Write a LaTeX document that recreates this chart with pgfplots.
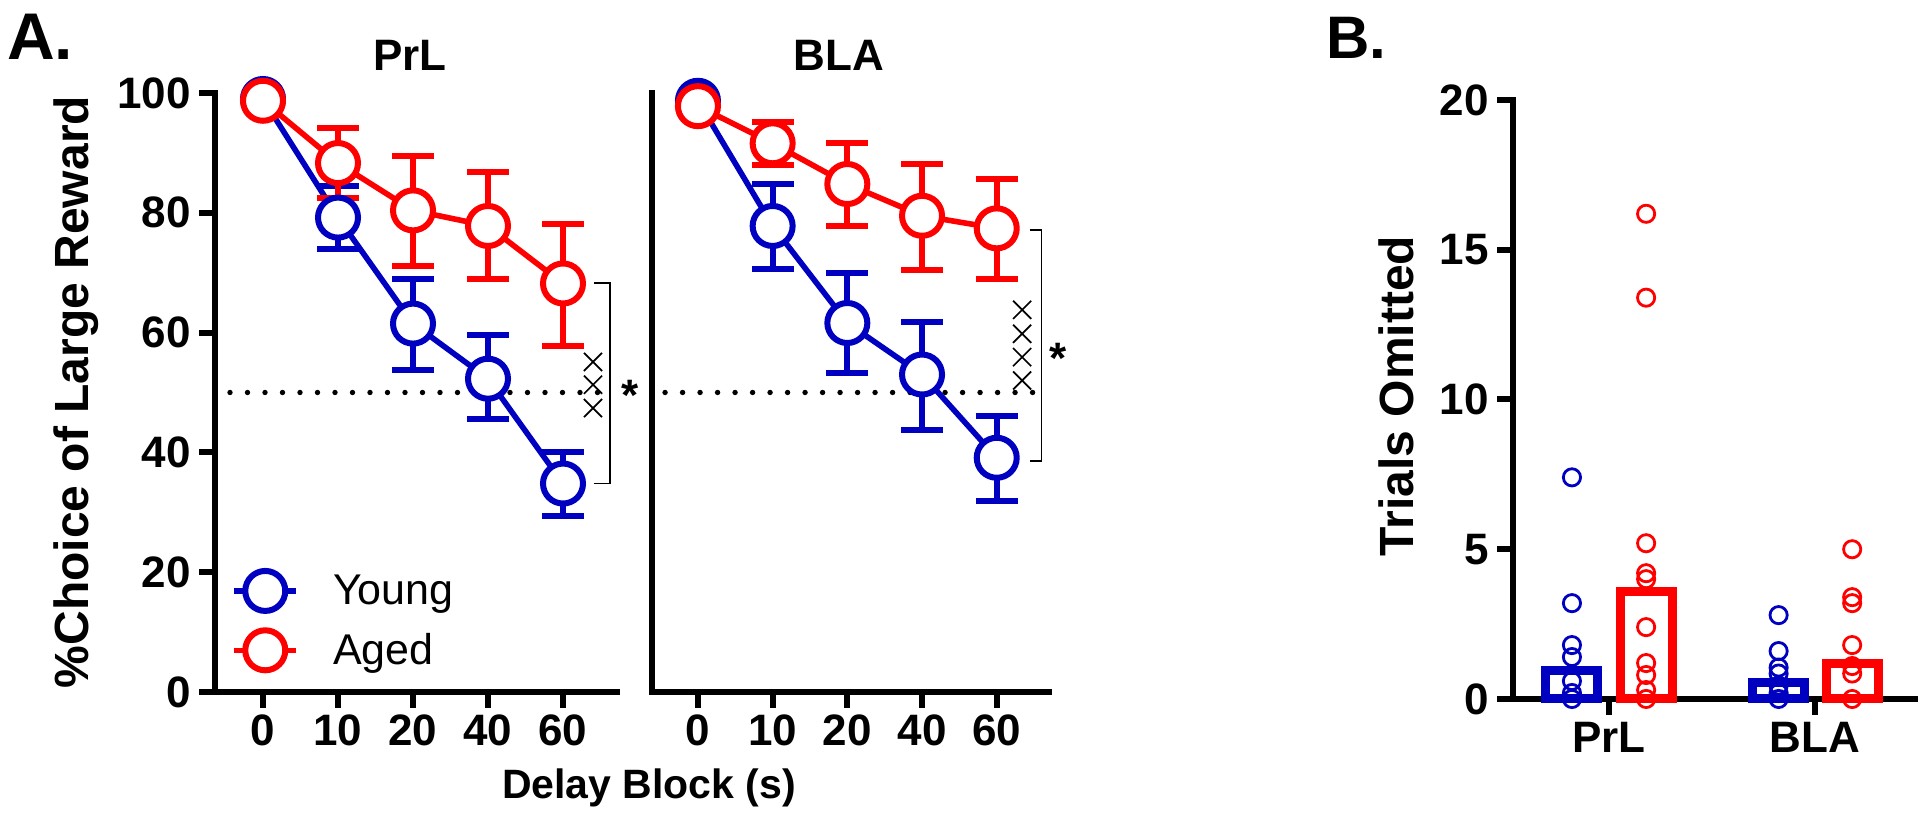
\documentclass[border=0pt]{standalone}
\usepackage{fontspec}
\setmainfont{Liberation Sans}
\usepackage{pgfplots}
\pgfplotsset{compat=1.18}
\definecolor{cblue}{RGB}{0,0,192}
\definecolor{cred}{RGB}{255,0,0}
\newcommand{\fs}[1]{\fontsize{#1}{#1}\selectfont}
\begin{document}
\begin{tikzpicture}
\path[use as bounding box] (0pt,0pt) rectangle (960pt,408.5pt);
\pgfplotsset{
  base/.style={scale only axis, height=299.5pt,
    axis x line*=bottom, axis y line*=left,
    axis line style={line width=3pt, black, line cap=rect},
    tick style={line width=3pt, black},
    major tick length=8pt, tick align=outside,
    ticklabel style={font=\bfseries\fs{22}},
    yticklabel style={inner sep=4pt},
    /pgf/number format/assume math mode=true,
    clip=false},
  grp/.style={#1, line width=2.8pt, mark=*, mark size=10pt,
    mark options={fill=white, draw=#1, line width=3pt, solid},
    error bars/y dir=both, error bars/y explicit,
    error bars/error bar style={line width=3pt, #1, solid},
    error bars/error mark options={rotate=90, line width=3pt, mark size=10.5pt, #1, solid}},
  dotline/.style={black, line width=2.7pt, dash pattern=on 0pt off 8.75pt, line cap=round, forget plot},
  xx/.style={only marks, mark=x, mark size=6.4pt, black, mark options={line width=0.85pt}, forget plot},
}
% ---------- Panel A, PrL ----------
\begin{axis}[base, at={(107.5pt,62.5pt)}, anchor=south west, width=201pt,
  xmin=-0.64, xmax=4.72, ymin=0, ymax=100,
  xtick={0,1,2,3,4}, xticklabels={0,10,20,40,60},
  ytick={0,20,40,60,80,100},
  legend style={draw=none, fill=none, at={(0.04,0.1185)}, anchor=west,
    font=\fs{21.5}, inner sep=0pt, row sep=9pt, column sep=15pt},
  legend cell align=left,
  legend image code/.code={\draw[mark repeat=2, mark phase=2, #1] plot coordinates {(0pt,0pt) (15.5pt,0pt) (31pt,0pt)};}]
\addplot[dotline] coordinates {(-0.44,50) (4.63,50)};
\addplot[grp=cblue] coordinates {(0,99.0) +- (0,0) (1,79.2) += (0,5.3) -= (0,5.3) (2,61.5) += (0,7.4) -= (0,7.7) (3,52.3) += (0,7.3) -= (0,6.7) (4,34.8) += (0,5.2) -= (0,5.5)};
\addlegendentry{Young}
\addplot[grp=cred] coordinates {(0,98.7) +- (0,0) (1,88.3) += (0,5.8) -= (0,5.9) (2,80.4) += (0,9.0) -= (0,9.3) (3,77.8) += (0,9.0) -= (0,8.9) (4,68.2) += (0,10.0) -= (0,10.4)};
\addlegendentry{Aged}
\addplot[xx] coordinates {(4.40,55.1) (4.40,51.3) (4.40,47.4)};
\draw[line width=0.9pt] (axis cs:4.41,68.3) -- (axis cs:4.63,68.3) -- (axis cs:4.63,34.8) -- (axis cs:4.41,34.8);
\node[font=\bfseries\fs{22}, anchor=base, inner sep=0pt] at (axis cs:4.89,51.3) [yshift=-12.7pt] {*};
\end{axis}
% ---------- Panel A, BLA ----------
\begin{axis}[base, at={(326pt,62.5pt)}, anchor=south west, width=198.5pt,
  xmin=-0.615, xmax=4.70, ymin=0, ymax=100,
  xtick={0,1,2,3,4}, xticklabels={0,10,20,40,60},
  ytick=\empty]
\addplot[dotline] coordinates {(-0.44,50) (4.60,50)};
\addplot[grp=cblue] coordinates {(0,98.7) +- (0,0) (1,77.8) += (0,7.0) -= (0,7.2) (2,61.6) += (0,8.4) -= (0,8.4) (3,53.0) += (0,8.7) -= (0,9.2) (4,39.1) += (0,7.0) -= (0,7.2)};
\addplot[grp=cred] coordinates {(0,97.8) +- (0,0) (1,91.6) += (0,3.6) -= (0,3.6) (2,84.8) += (0,6.8) -= (0,7.0) (3,79.5) += (0,8.7) -= (0,9.0) (4,77.4) += (0,8.3) -= (0,8.5)};
\addplot[xx] coordinates {(4.34,63.8) (4.34,59.8) (4.34,55.9) (4.34,52.0)};
\draw[line width=0.9pt] (axis cs:4.44,77.1) -- (axis cs:4.60,77.1) -- (axis cs:4.60,38.6) -- (axis cs:4.44,38.6);
\node[font=\bfseries\fs{22}, anchor=base, inner sep=0pt] at (axis cs:4.82,57.4) [yshift=-12.7pt] {*};
\end{axis}
% ---------- Panel B ----------
\begin{axis}[base, at={(756.5pt,59pt)}, anchor=south west, width=201pt,
  xmin=-0.466, xmax=1.485, ymin=0, ymax=20,
  xtick={0,1}, xticklabels={PrL,BLA},
  ytick={0,5,10,15,20}]
\addplot[ybar, bar width=26pt, bar shift=0pt, draw=cblue, line width=4.5pt, fill=none] coordinates {(-0.18,0.95) (0.823,0.55)};
\addplot[ybar, bar width=26pt, bar shift=0pt, draw=cred, line width=4.5pt, fill=none] coordinates {(0.18,3.6) (1.18,1.2)};
\addplot[only marks, mark=o, mark size=4.3pt, cblue, mark options={line width=1.4pt}] coordinates {
 (-0.18,7.4) (-0.18,3.2) (-0.18,1.8) (-0.18,1.4) (-0.18,0.6) (-0.18,0.2) (-0.18,0)
 (0.823,2.8) (0.823,1.6) (0.823,1.05) (0.823,0.85) (0.823,0.45) (0.823,0.2) (0.823,0)};
\addplot[only marks, mark=o, mark size=4.3pt, cred, mark options={line width=1.4pt}] coordinates {
 (0.18,16.2) (0.18,13.4) (0.18,5.2) (0.18,4.2) (0.18,4.0) (0.18,2.4) (0.18,1.2) (0.18,0.8) (0.18,0.3) (0.18,0)
 (1.18,5.0) (1.18,3.4) (1.18,3.2) (1.18,1.8) (1.18,1.1) (1.18,0.85) (1.18,0)};
\end{axis}
% ---------- Texts ----------
\node[font=\bfseries\fs{33}] at (20pt,390pt) {A.};
\node[font=\bfseries\fs{30}] at (678pt,389.5pt) {B.};
\node[font=\bfseries\fs{22}] at (205pt,381pt) {PrL};
\node[font=\bfseries\fs{22}] at (419.5pt,381pt) {BLA};
\node[font=\bfseries\fs{24}, rotate=90] at (38pt,212.5pt) {\%Choice of Large Reward};
\node[font=\bfseries\fs{24}, rotate=90] at (698pt,210.5pt) {Trials Omitted};
\node[font=\bfseries\fs{20.5}] at (324.5pt,14.5pt) {Delay Block (s)};
\end{tikzpicture}
\end{document}
